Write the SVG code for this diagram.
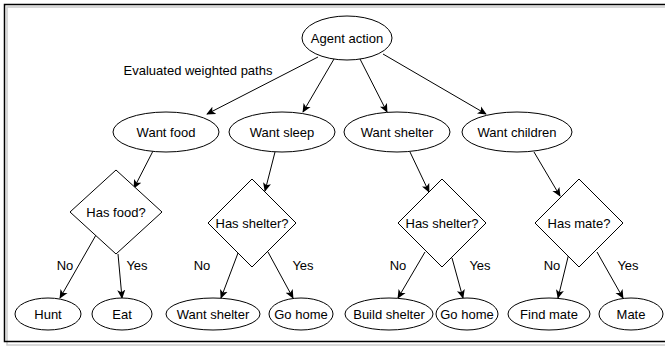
<svg xmlns="http://www.w3.org/2000/svg" width="665" height="349" viewBox="0 0 665 349">
<defs>
<marker id="arr" viewBox="0 0 10 10" refX="9" refY="5" markerWidth="9" markerHeight="9" markerUnits="userSpaceOnUse" orient="auto">
<path d="M0,0.5 L10,5 L0,9.5 L2.5,5 Z" fill="#000"/>
</marker>
</defs>
<style>
.n{fill:#fff;stroke:#000;stroke-width:1}
.t{font-family:"Liberation Sans",Arial,sans-serif;font-size:13px;fill:#000;text-anchor:middle;dominant-baseline:central}
.e{stroke:#000;stroke-width:1;fill:none;marker-end:url(#arr)}
</style>
<rect x="0" y="0" width="665" height="349" fill="#fff"/>
<rect x="7" y="7" width="670" height="338" fill="none" stroke="#ccc" stroke-width="1.5"/>
<rect x="4.5" y="4.5" width="670" height="337" fill="none" stroke="#000" stroke-width="1.5"/>

<g id="connectors">
<line class="e" x1="318" y1="57" x2="207" y2="114"/>
<line class="e" x1="334" y1="59" x2="303" y2="112"/>
<line class="e" x1="360" y1="59" x2="387" y2="112"/>
<line class="e" x1="383" y1="54" x2="486" y2="114"/>
<line class="e" x1="153" y1="151" x2="134" y2="188"/>
<line class="e" x1="275" y1="152" x2="265" y2="191"/>
<line class="e" x1="410" y1="152" x2="429" y2="192"/>
<line class="e" x1="534" y1="152" x2="560" y2="196"/>
<line class="e" x1="96" y1="235" x2="60" y2="298"/>
<line class="e" x1="118" y1="254" x2="122" y2="298"/>
<line class="e" x1="238" y1="253" x2="221" y2="298"/>
<line class="e" x1="268" y1="252" x2="293" y2="298"/>
<line class="e" x1="425" y1="252" x2="398" y2="298"/>
<line class="e" x1="452" y1="258" x2="463" y2="298"/>
<line class="e" x1="569" y1="253" x2="558" y2="298"/>
<line class="e" x1="597" y1="252" x2="623" y2="298"/>
<text class="t" x="198" y="70">Evaluated weighted paths</text>
<text class="t" x="65" y="265">No</text>
<text class="t" x="137" y="265">Yes</text>
<text class="t" x="202" y="265">No</text>
<text class="t" x="303" y="265">Yes</text>
<text class="t" x="398" y="265">No</text>
<text class="t" x="480" y="265">Yes</text>
<text class="t" x="552" y="265">No</text>
<text class="t" x="628" y="265">Yes</text>
</g>

<g id="agent-action"><ellipse class="n" cx="347" cy="38" rx="45" ry="22"/><text class="t" x="347" y="38">Agent action</text></g>
<g id="want-food"><ellipse class="n" cx="166" cy="132" rx="53" ry="20"/><text class="t" x="166" y="132">Want food</text></g>
<g id="want-sleep"><ellipse class="n" cx="282" cy="132" rx="53" ry="20"/><text class="t" x="282" y="132">Want sleep</text></g>
<g id="want-shelter"><ellipse class="n" cx="397" cy="132" rx="53" ry="20"/><text class="t" x="397" y="132">Want shelter</text></g>
<g id="want-children"><ellipse class="n" cx="517" cy="132" rx="55" ry="20"/><text class="t" x="517" y="132">Want children</text></g>

<g id="has-food"><polygon class="n" points="116,170 162,212 116,254 70,212"/><text class="t" x="116" y="212">Has food?</text></g>
<g id="has-shelter-1"><polygon class="n" points="252,179 296,223 252,267 208,223"/><text class="t" x="252" y="223">Has shelter?</text></g>
<g id="has-shelter-2"><polygon class="n" points="442,179 486,223 442,267 398,223"/><text class="t" x="442" y="223">Has shelter?</text></g>
<g id="has-mate"><polygon class="n" points="579,179 623,223 579,267 535,223"/><text class="t" x="579" y="223">Has mate?</text></g>

<g id="hunt"><ellipse class="n" cx="48" cy="314" rx="33" ry="16"/><text class="t" x="48" y="314">Hunt</text></g>
<g id="eat"><ellipse class="n" cx="122" cy="314" rx="30" ry="16"/><text class="t" x="122" y="314">Eat</text></g>
<g id="want-shelter-leaf"><ellipse class="n" cx="213" cy="314" rx="47" ry="16"/><text class="t" x="213" y="314">Want shelter</text></g>
<g id="go-home-1"><ellipse class="n" cx="301" cy="314" rx="32" ry="16"/><text class="t" x="301" y="314">Go home</text></g>
<g id="build-shelter"><ellipse class="n" cx="389" cy="314" rx="44" ry="16"/><text class="t" x="389" y="314">Build shelter</text></g>
<g id="go-home-2"><ellipse class="n" cx="467" cy="314" rx="31" ry="16"/><text class="t" x="467" y="314">Go home</text></g>
<g id="find-mate"><ellipse class="n" cx="549" cy="314" rx="41" ry="16"/><text class="t" x="549" y="314">Find mate</text></g>
<g id="mate"><ellipse class="n" cx="631" cy="314" rx="32" ry="16"/><text class="t" x="631" y="314">Mate</text></g>
</svg>
